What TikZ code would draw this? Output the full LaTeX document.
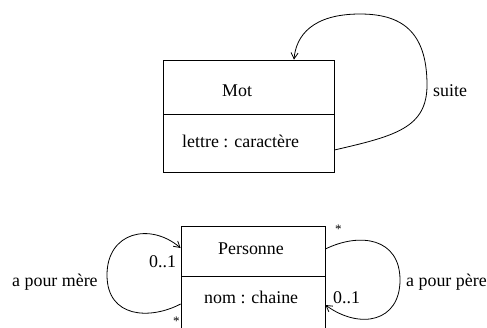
\documentclass[tikz,border=0pt]{standalone}
\usepackage{fontspec}
\setmainfont{Liberation Serif}
\usepackage{tikz}
\usetikzlibrary{arrows.meta}

\begin{document}
\begin{tikzpicture}[
  x=1pt, y=-1pt,
  classbox/.style={draw, line width=0.8pt, fill=white, inner sep=0pt},
  lbl/.style={font=\fontsize{17.9}{20}\selectfont, inner sep=0pt, anchor=base west},
  star/.style={lbl, font=\fontsize{13}{15}\selectfont},
  assoc/.style={line width=0.8pt, -{Straight Barb[length=6pt,width=7pt]}},
  >=Stealth
]
\useasboundingbox (0,0) rectangle (487,327);

%--- Mot ---------------------------------------------------------------
\node[classbox, minimum width=171pt, minimum height=54pt] (mot) at (248.5,87) {};
\node[classbox, minimum width=171pt, minimum height=58pt] (motattr) at (248.5,143) {};
\node[lbl] (motname) at (222,96) {Mot};
\node[lbl] (motlettre) at (182,147) {lettre : caractère};

% suite (reflexive)
\draw[assoc] ([yshift=-7pt]motattr.east)
  .. controls (395,136) and (427,128) .. (427,85)
  .. controls (427,30) and (400,14) .. (360,14)
  .. controls (312,14) and (296,36) .. ([xshift=45.5pt]mot.north);
\node[lbl] (suite) at (433,96) {suite};

%--- Personne ----------------------------------------------------------
\node[classbox, minimum width=144pt, minimum height=50pt] (pers) at (253,251) {};
\node[classbox, minimum width=144pt, minimum height=64pt] (persattr) at (253,308) {};
\node[lbl] (persname) at (218,254) {Personne};
\node[lbl] (persnom) at (204,303) {nom : chaine};

% a pour mere
\draw[assoc] ([yshift=4pt]persattr.west)
  .. controls (150,320) and (107,318) .. (107,275)
  .. controls (107,232) and (150,222) .. ([yshift=3pt]pers.west);
\node[lbl] (merecard) at (149,267) {0..1};
\node[star] (merestar) at (173,325) {*};
\node[lbl] (mere) at (12,286) {a pour mère};

% a pour pere
\draw[assoc] ([yshift=2pt]pers.east)
  .. controls (360,232) and (400,238) .. (400,280)
  .. controls (400,322) and (360,330) .. ([yshift=3pt]persattr.east);
\node[star] (perestar) at (335,233) {*};
\node[lbl] (perecard) at (333,303) {0..1};
\node[lbl] (pere) at (406,286) {a pour père};

\end{tikzpicture}
\end{document}
